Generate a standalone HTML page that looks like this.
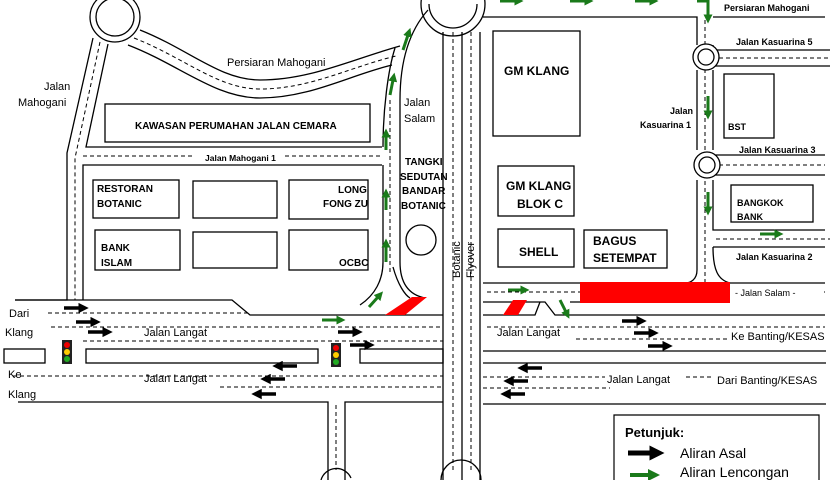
<!DOCTYPE html>
<html><head><meta charset="utf-8"><style>
html,body{margin:0;padding:0;background:#fff;width:840px;height:480px;overflow:hidden}
svg{display:block}
text{font-family:"Liberation Sans",sans-serif;fill:#000}
.b{font-weight:bold;font-size:10px}
.n{font-size:11px}
</style></head><body>
<svg width="840" height="480" viewBox="0 0 840 480" xmlns="http://www.w3.org/2000/svg" overflow="hidden">
<defs>
<marker id="bk" markerWidth="3" markerHeight="3" refX="0.5" refY="1.5" orient="auto" markerUnits="strokeWidth"><path d="M0,0 L3,1.5 L0,3 z" fill="#000"/></marker>
<marker id="gr" markerWidth="3" markerHeight="3" refX="0.5" refY="1.5" orient="auto" markerUnits="strokeWidth"><path d="M0,0 L3,1.5 L0,3 z" fill="#1a7a1a"/></marker>
</defs>
<g fill="none" stroke="#000" stroke-width="1.3">
<circle cx="115" cy="17" r="25"/><circle cx="115" cy="17" r="19"/>
<path d="M93,38 L67,153 L67,300 L15,300"/>
<path d="M108,44 L86,147 L382,147"/>
<path d="M83,300 L83,165 L382,165"/>
<path d="M100,42 L75,158 L75,300 M83,156 L195,156 M285,156 L380,156" stroke-dasharray="4,3" stroke-width="1"/>
<path d="M140,30 C190,50 220,80 260,80 C310,80 350,60 400,46"/>
<path d="M128,45 C180,65 215,98 260,98 C310,98 350,75 392,65"/>
<path d="M134,38 C185,58 218,89 260,89 C310,89 350,67 396,56" stroke-dasharray="4,3" stroke-width="1"/>
<path d="M428,10 C410,30 400,60 400,100 L400,262 C400,285 410,295 425,298"/>
<path d="M395,48 C388,70 383,110 383,147 M383,165 L383,262 C383,280 375,295 360,305"/>
<path d="M390,100 L390,272" stroke-dasharray="4,3" stroke-width="1"/>
<path d="M393,267 C398,285 405,295 410,298"/>
<circle cx="421" cy="240" r="15"/>
<path d="M421,4 A32,32 0 0 0 485,4 M429,4 A24,24 0 0 0 477,4 M421,4 A32,32 0 0 1 430,-18 M485,4 A32,32 0 0 0 476,-18"/>
<path d="M443,32 L443,480 M462,32 L462,480 M480,32 L480,480"/>
<path d="M453,32 L453,470 M471,32 L471,470" stroke-dasharray="4,3" stroke-width="1"/>
<path d="M483,17 L697,17 L697,45 M697,70 L697,150 M697,180 L697,270 C697,280 690,283 685,283"/>
<path d="M713,17 L825,17 M713,45 L713,50 L830,50 M713,66 L830,66"/>
<path d="M713,70 L713,150 M713,155 L825,155 M713,175 L825,175 M713,180 L713,230 L825,230 M713,247 L825,247 M713,247 C713,270 718,280 730,283"/>
<path d="M705,20 L705,282 M719,165 L825,165 M716,239 L830,239 M719,58 L830,58" stroke-dasharray="4,3" stroke-width="1"/>
<circle cx="706" cy="57" r="13" fill="#fff"/><circle cx="706" cy="57" r="8"/>
<circle cx="707" cy="165" r="13" fill="#fff"/><circle cx="707" cy="165" r="8"/>
<rect x="105" y="104" width="265" height="38"/>
<rect x="93" y="180" width="86" height="38"/><rect x="193" y="181" width="84" height="37"/><rect x="289" y="180" width="79" height="39"/>
<rect x="95" y="230" width="85" height="40"/><rect x="193" y="232" width="84" height="36"/><rect x="289" y="230" width="79" height="40"/>
<rect x="493" y="31" width="87" height="105"/>
<rect x="498" y="166" width="76" height="50"/><rect x="498" y="229" width="76" height="38"/><rect x="584" y="230" width="83" height="38"/>
<rect x="724" y="74" width="50" height="64"/><rect x="731" y="185" width="82" height="37"/>
<path d="M15,300 L232,300 L250,315 L443,315"/>
<path d="M48,313 L248,313 M51,327 L443,327 M83,341 L443,341 M13,376 L443,376 M220,387 L443,387" stroke-dasharray="4,3" stroke-width="1"/>
<rect x="86" y="349" width="232" height="14"/><rect x="360" y="349" width="83" height="14"/><rect x="4" y="349" width="41" height="14"/>
<path d="M18,402 L328,402 L328,480 M345,480 L345,402 L443,402"/>
<path d="M336,405 L336,470" stroke-dasharray="4,3" stroke-width="1"/>
<path d="M321,480 A16,16 0 0 1 351,478 M441,480 A20,20 0 0 1 481,480"/>
<path d="M483,283 L825,283 M483,302 L545,302 L555,315 L825,315 M483,315 L535,315 L540,302 M570,302 L580,302"/>
<path d="M487,292 L580,292 M733,292 L825,292 M487,327 L825,327 M576,339 L727,339 M483,377 L740,377 M483,388 L610,388" stroke-dasharray="4,3" stroke-width="1"/>
<path d="M483,351 L826,351 M483,363 L826,363 M483,404 L826,404"/>
<path d="M614,480 L614,415 L819,415 L819,480" stroke-width="1.2"/>
</g>
<rect x="580" y="282" width="150" height="21" fill="#f00"/>
<polygon points="385,315 405,315 427,297 412,297" fill="#f00"/>
<polygon points="503,315 518,315 527,300 513,300" fill="#f00"/>
<g><rect x="62" y="340" width="10" height="24" fill="#222"/><circle cx="67" cy="345" r="3" fill="#e00"/><circle cx="67" cy="352" r="3" fill="#fc0"/><circle cx="67" cy="359" r="3" fill="#2a2"/>
<rect x="331" y="343" width="10" height="24" fill="#222"/><circle cx="336" cy="348" r="3" fill="#e00"/><circle cx="336" cy="355" r="3" fill="#fc0"/><circle cx="336" cy="362" r="3" fill="#2a2"/></g>
<g stroke="#000" stroke-width="3.5" marker-end="url(#bk)">
<line x1="64" y1="308" x2="80" y2="308"/><line x1="76" y1="322" x2="92" y2="322"/><line x1="88" y1="332" x2="104" y2="332"/>
<line x1="338" y1="332" x2="354" y2="332"/><line x1="350" y1="345" x2="366" y2="345"/>
<line x1="622" y1="321" x2="638" y2="321"/><line x1="634" y1="333" x2="650" y2="333"/><line x1="648" y1="346" x2="664" y2="346"/>
<line x1="297" y1="366" x2="281" y2="366"/><line x1="285" y1="379" x2="269" y2="379"/><line x1="276" y1="394" x2="260" y2="394"/>
<line x1="542" y1="368" x2="526" y2="368"/><line x1="528" y1="381" x2="512" y2="381"/><line x1="525" y1="394" x2="509" y2="394"/>
<line x1="628" y1="453" x2="652" y2="453" stroke-width="5"/>
</g>
<g stroke="#1a7a1a" stroke-width="3" marker-end="url(#gr)">
<line x1="322" y1="320" x2="338" y2="320"/><line x1="369" y1="307" x2="378" y2="297"/>
<line x1="386" y1="262" x2="386" y2="246"/><line x1="386" y1="210" x2="386" y2="196"/><line x1="386" y1="150" x2="386" y2="136"/>
<line x1="390" y1="95" x2="393" y2="80"/><line x1="403" y1="50" x2="408" y2="35"/>
<line x1="500" y1="1" x2="516" y2="1"/><line x1="570" y1="1" x2="586" y2="1"/><line x1="635" y1="1" x2="651" y2="1"/>
<line x1="708" y1="5" x2="708" y2="16"/><line x1="708" y1="96" x2="708" y2="112"/><line x1="708" y1="192" x2="708" y2="208"/>
<line x1="760" y1="234" x2="776" y2="234"/><line x1="508" y1="290" x2="522" y2="290"/><line x1="560" y1="300" x2="566" y2="312"/>
<line x1="630" y1="475" x2="650" y2="475" stroke-width="4"/>
</g>
<path d="M697,1 L708,1 L708,8" fill="none" stroke="#1a7a1a" stroke-width="3"/>
<text class="n" x="44" y="90">Jalan</text><text class="n" x="18" y="106">Mahogani</text>
<text class="n" x="227" y="66">Persiaran Mahogani</text>
<text class="b" x="135" y="129">KAWASAN PERUMAHAN JALAN CEMARA</text>
<rect x="196" y="150" width="88" height="12" fill="#fff"/>
<text x="205" y="161" font-size="8.5" font-weight="bold">Jalan Mahogani 1</text>
<text class="b" x="97" y="192">RESTORAN</text><text class="b" x="97" y="207">BOTANIC</text>
<text class="b" x="338" y="193">LONG</text><text class="b" x="323" y="207">FONG ZU</text>
<text class="b" x="101" y="251">BANK</text><text class="b" x="101" y="266">ISLAM</text>
<text class="b" x="339" y="266">OCBC</text>
<text class="n" x="404" y="106">Jalan</text><text class="n" x="404" y="122">Salam</text>
<text class="b" x="405" y="165">TANGKI</text><text class="b" x="400" y="180">SEDUTAN</text><text class="b" x="402" y="194">BANDAR</text><text class="b" x="401" y="209">BOTANIC</text>
<text class="n" transform="translate(460,278) rotate(-90)">Botanic</text>
<text class="n" transform="translate(474,278) rotate(-90)">Flyover</text>
<text x="504" y="75" font-size="12" font-weight="bold">GM KLANG</text>
<text x="506" y="190" font-size="12" font-weight="bold">GM KLANG</text><text x="517" y="208" font-size="12" font-weight="bold">BLOK C</text>
<text x="519" y="256" font-size="12" font-weight="bold">SHELL</text>
<text x="593" y="245" font-size="12" font-weight="bold">BAGUS</text><text x="593" y="262" font-size="12" font-weight="bold">SETEMPAT</text>
<text x="724" y="11" font-size="9" font-weight="bold">Persiaran Mahogani</text>
<text x="736" y="45" font-size="9" font-weight="bold">Jalan Kasuarina 5</text>
<text x="670" y="114" font-size="9" font-weight="bold">Jalan</text><text x="640" y="128" font-size="9" font-weight="bold">Kasuarina 1</text>
<text x="728" y="130" font-size="9" font-weight="bold">BST</text>
<text x="739" y="153" font-size="9" font-weight="bold">Jalan Kasuarina 3</text>
<text x="737" y="206" font-size="9" font-weight="bold">BANGKOK</text><text x="737" y="220" font-size="9" font-weight="bold">BANK</text>
<text x="736" y="260" font-size="9" font-weight="bold">Jalan Kasuarina 2</text>
<rect x="732" y="286" width="90" height="12" fill="#fff"/>
<text x="735" y="296" font-size="9">- Jalan Salam -</text>
<text class="n" x="9" y="317">Dari</text><text class="n" x="5" y="336">Klang</text>
<text class="n" x="144" y="336">Jalan Langat</text>
<text class="n" x="144" y="382">Jalan Langat</text>
<text class="n" x="8" y="378">Ke</text><text class="n" x="8" y="398">Klang</text>
<text class="n" x="497" y="336">Jalan Langat</text>
<text class="n" x="731" y="340">Ke Banting/KESAS</text>
<rect x="605" y="372" width="78" height="12" fill="#fff"/><rect x="714" y="372" width="120" height="12" fill="#fff"/>
<text class="n" x="607" y="383">Jalan Langat</text>
<text class="n" x="717" y="384">Dari Banting/KESAS</text>
<text x="625" y="437" font-size="13" font-weight="bold">Petunjuk:</text>
<text x="680" y="458" font-size="14">Aliran Asal</text>
<text x="680" y="477" font-size="14">Aliran Lencongan</text>
</svg>
</body></html>
